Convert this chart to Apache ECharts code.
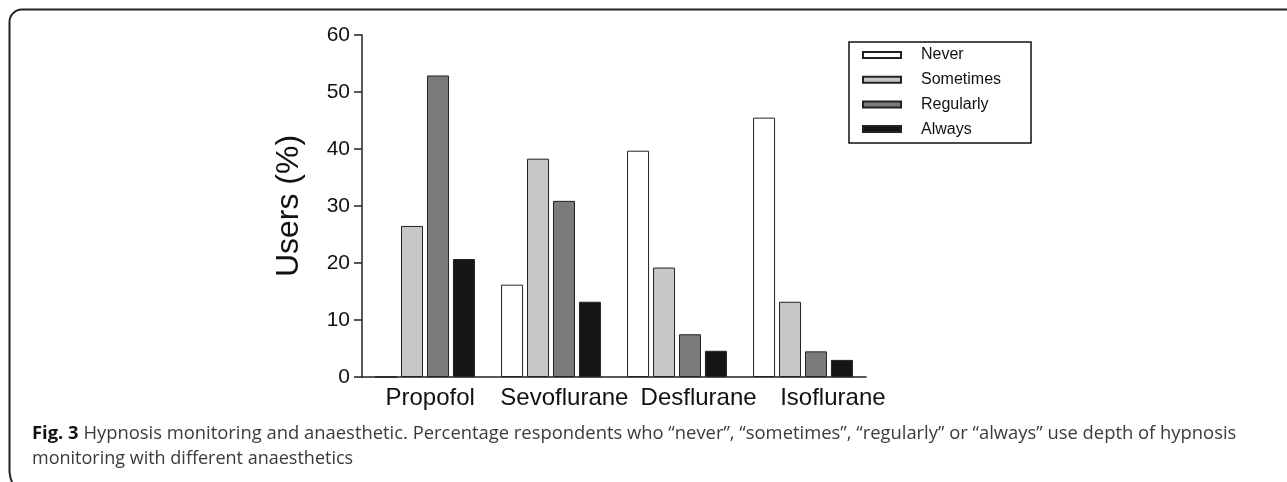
<!DOCTYPE html>
<html>
<head>
<meta charset="utf-8">
<script src="https://cdn.jsdelivr.net/npm/echarts@6/dist/echarts.min.js"></script>
<style>
  html, body { margin: 0; padding: 0; background: #fff; }
  #chart { width: 1287px; height: 482px; }
</style>
</head>
<body>
<div id="chart"></div>
<script>
// data (percent of users)
const drugs = ['Propofol', 'Sevoflurane', 'Desflurane', 'Isoflurane']
const never = [0, 16.2, 39.7, 45.5]
const sometimes = [26.5, 38.3, 19.2, 13.2]
const regularly = [52.9, 30.9, 7.5, 4.5]
const always = [20.7, 13.2, 4.6, 3.0]
const yTicks = [0, 10, 20, 30, 40, 50, 60]

const chart = echarts.init(document.getElementById('chart'))

function barSeries(name, data, color) {
  return {
    name: name,
    type: 'bar',
    data: data,
    barWidth: 22,
    barGap: '18%',
    itemStyle: { color: color, borderColor: '#222', borderWidth: 1 }
  }
}

const frameStyle = { fill: null, stroke: '#222', lineWidth: 2 }

const option = {
  backgroundColor: '#fff',
  animation: false,
  textStyle: { fontFamily: 'Liberation Sans, Arial, sans-serif' },
  grid: [
    { left: 362, top: 35, width: 504, height: 342 },
    // second grid only carries the category labels (they sit a bit wider than the bars)
    { left: 363, top: 35, width: 537, height: 342 }
  ],
  legend: {
    orient: 'vertical',
    left: 849,
    top: 42,
    icon: 'rect',
    itemWidth: 38,
    itemHeight: 6,
    itemGap: 6.7,
    padding: [4, 30, 5, 13],
    borderColor: '#111',
    borderWidth: 1.5,
    textStyle: { fontSize: 16, color: '#111', lineHeight: 18, padding: [0, 0, 0, 15] },
    data: ['Never', 'Sometimes', 'Regularly', 'Always']
  },
  xAxis: [
    {
      type: 'category',
      gridIndex: 0,
      data: drugs,
      axisLine: { lineStyle: { color: '#222', width: 1.5 } },
      axisTick: { show: false },
      axisLabel: { show: false }
    },
    {
      type: 'category',
      gridIndex: 1,
      data: drugs,
      axisLine: { show: false },
      axisTick: { show: false },
      axisLabel: { fontSize: 24, color: '#111', margin: 9, interval: 0 }
    }
  ],
  yAxis: [
    {
      type: 'value',
      gridIndex: 0,
      min: yTicks[0],
      max: yTicks[yTicks.length - 1],
      interval: 10,
      name: 'Users (%)',
      nameLocation: 'middle',
      nameRotate: 90,
      nameGap: 57,
      nameTextStyle: { fontSize: 32, color: '#111' },
      axisLine: { show: true, lineStyle: { color: '#222', width: 1.5 } },
      axisTick: { show: true, length: 8, lineStyle: { color: '#222', width: 1.5 } },
      axisLabel: { fontSize: 21, color: '#111', margin: 12 },
      splitLine: { show: false }
    },
    { type: 'value', gridIndex: 1, show: false, min: 0, max: 60 }
  ],
  series: [
    barSeries('Never', never, '#ffffff'),
    barSeries('Sometimes', sometimes, '#c6c8c6'),
    barSeries('Regularly', regularly, '#7b7b7b'),
    barSeries('Always', always, '#151515')
  ],
  graphic: [
    // page frame: rounded top-left corner, open on the right and bottom
    { type: 'line', shape: { x1: 22, y1: 9.5, x2: 1287, y2: 9.5 }, style: frameStyle },
    { type: 'arc', shape: { cx: 22, cy: 22, r: 12.5, startAngle: Math.PI, endAngle: Math.PI * 1.5 }, style: frameStyle },
    { type: 'polyline', shape: { points: [[9.5, 22], [9.5, 472], [10.5, 478], [12, 482]] }, style: frameStyle },
    {
      type: 'text',
      left: 32,
      top: 425,
      style: {
        text: '{b|Fig. 3} Hypnosis monitoring and anaesthetic. Percentage respondents who \u201cnever\u201d, \u201csometimes\u201d, \u201cregularly\u201d or \u201calways\u201d use depth of hypnosis',
        font: '18.4px "Open Sans"',
        fill: '#3a3a3a',
        rich: { b: { fontFamily: 'Open Sans', fontSize: 18.4, fontWeight: 'bold', fill: '#111' } }
      }
    },
    {
      type: 'text',
      left: 32,
      top: 450,
      style: {
        text: 'monitoring with different anaesthetics',
        font: '18px "Open Sans"',
        fill: '#3a3a3a'
      }
    }
  ]
}

chart.setOption(option)
</script>
</body>
</html>
